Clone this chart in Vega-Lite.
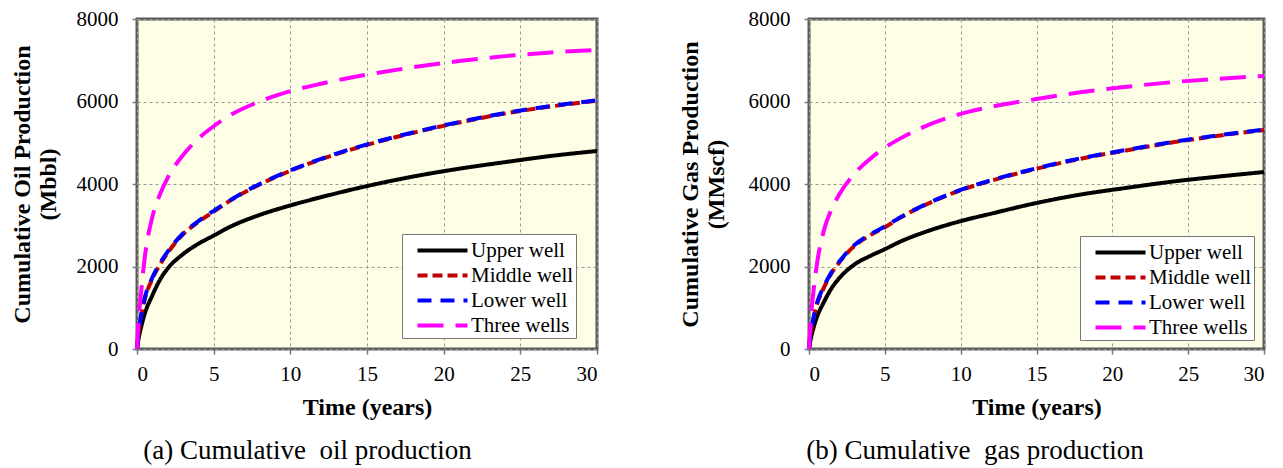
{
  "$schema": "https://vega.github.io/schema/vega-lite/v6.json",
  "background": "white",
  "padding": {"left": 8, "top": 6, "right": 5, "bottom": 5},
  "config": {
    "font": "Liberation Serif",
    "view": {"fill": "#FEFEE6", "stroke": "#5a5a5a", "strokeWidth": 3},
    "axis": {
      "labelFont": "Liberation Serif", "labelFontSize": 21, "labelColor": "#000",
      "titleFont": "Liberation Serif", "titleFontSize": 24, "titleFontWeight": "bold", "titleColor": "#000",
      "domain": false, "grid": true, "gridColor": "#999", "gridDash": [3, 3], "gridWidth": 1,
      "tickColor": "#777", "tickSize": 5, "tickWidth": 1.5
    },
    "axisX": {"labelPadding": 9, "titlePadding": 11},
    "axisY": {"labelPadding": 14},
    "legend": {
      "symbolType": "M-2,0H2", "symbolStrokeWidth": 4, "symbolSize": 625,
      "labelFont": "Liberation Serif", "labelFontSize": 21, "labelColor": "#000",
      "strokeColor": "#777", "fillColor": "white", "padding": 2, "rowPadding": -1, "labelOffset": 14, "symbolOffset": 24
    },
    "title": {"font": "Liberation Serif", "fontSize": 27, "fontWeight": "normal", "color": "#000"},
    "concat": {"spacing": 69}
  },
  "datasets": {
    "oil": [
      {"t": 0, "Upper well": 0, "Middle well": 0, "Lower well": 0, "Three wells": 0},
      {"t": 0.1, "Upper well": 250, "Middle well": 400, "Lower well": 420, "Three wells": 700},
      {"t": 0.25, "Upper well": 500, "Middle well": 750, "Lower well": 780, "Three wells": 1300},
      {"t": 0.5, "Upper well": 850, "Middle well": 1200, "Lower well": 1230, "Three wells": 2200},
      {"t": 1, "Upper well": 1300, "Middle well": 1700, "Lower well": 1730, "Three wells": 3200},
      {"t": 1.5, "Upper well": 1680, "Middle well": 2050, "Lower well": 2080, "Three wells": 3750},
      {"t": 2, "Upper well": 1950, "Middle well": 2330, "Lower well": 2360, "Three wells": 4150},
      {"t": 3, "Upper well": 2300, "Middle well": 2780, "Lower well": 2800, "Three wells": 4700},
      {"t": 4, "Upper well": 2550, "Middle well": 3080, "Lower well": 3100, "Three wells": 5100},
      {"t": 5, "Upper well": 2750, "Middle well": 3330, "Lower well": 3350, "Three wells": 5400},
      {"t": 6, "Upper well": 2950, "Middle well": 3580, "Lower well": 3590, "Three wells": 5650},
      {"t": 8, "Upper well": 3250, "Middle well": 3990, "Lower well": 4000, "Three wells": 6000},
      {"t": 10, "Upper well": 3480, "Middle well": 4320, "Lower well": 4330, "Three wells": 6250},
      {"t": 12, "Upper well": 3680, "Middle well": 4600, "Lower well": 4610, "Three wells": 6430},
      {"t": 15, "Upper well": 3950, "Middle well": 4950, "Lower well": 4960, "Three wells": 6650},
      {"t": 18, "Upper well": 4180, "Middle well": 5240, "Lower well": 5250, "Three wells": 6830},
      {"t": 21, "Upper well": 4370, "Middle well": 5490, "Lower well": 5500, "Three wells": 6980},
      {"t": 24, "Upper well": 4530, "Middle well": 5710, "Lower well": 5720, "Three wells": 7100},
      {"t": 27, "Upper well": 4680, "Middle well": 5880, "Lower well": 5890, "Three wells": 7190},
      {"t": 30, "Upper well": 4800, "Middle well": 6020, "Lower well": 6030, "Three wells": 7250}
    ],
    "gas": [
      {"t": 0, "Upper well": 0, "Middle well": 0, "Lower well": 0, "Three wells": 0},
      {"t": 0.1, "Upper well": 220, "Middle well": 350, "Lower well": 370, "Three wells": 650},
      {"t": 0.25, "Upper well": 450, "Middle well": 650, "Lower well": 680, "Three wells": 1250},
      {"t": 0.5, "Upper well": 750, "Middle well": 1050, "Lower well": 1080, "Three wells": 2000},
      {"t": 1, "Upper well": 1150, "Middle well": 1500, "Lower well": 1530, "Three wells": 2900},
      {"t": 1.5, "Upper well": 1480, "Middle well": 1850, "Lower well": 1870, "Three wells": 3400},
      {"t": 2, "Upper well": 1720, "Middle well": 2100, "Lower well": 2120, "Three wells": 3750},
      {"t": 3, "Upper well": 2050, "Middle well": 2500, "Lower well": 2520, "Three wells": 4250},
      {"t": 4, "Upper well": 2250, "Middle well": 2750, "Lower well": 2770, "Three wells": 4600},
      {"t": 5, "Upper well": 2420, "Middle well": 2950, "Lower well": 2970, "Three wells": 4880},
      {"t": 6, "Upper well": 2600, "Middle well": 3180, "Lower well": 3190, "Three wells": 5100},
      {"t": 8, "Upper well": 2880, "Middle well": 3550, "Lower well": 3560, "Three wells": 5450},
      {"t": 10, "Upper well": 3100, "Middle well": 3850, "Lower well": 3860, "Three wells": 5700},
      {"t": 12, "Upper well": 3280, "Middle well": 4080, "Lower well": 4090, "Three wells": 5870},
      {"t": 15, "Upper well": 3540, "Middle well": 4370, "Lower well": 4380, "Three wells": 6060},
      {"t": 18, "Upper well": 3750, "Middle well": 4620, "Lower well": 4630, "Three wells": 6230},
      {"t": 21, "Upper well": 3910, "Middle well": 4820, "Lower well": 4830, "Three wells": 6360},
      {"t": 24, "Upper well": 4060, "Middle well": 5010, "Lower well": 5020, "Three wells": 6470},
      {"t": 27, "Upper well": 4180, "Middle well": 5170, "Lower well": 5180, "Three wells": 6550},
      {"t": 30, "Upper well": 4290, "Middle well": 5310, "Lower well": 5320, "Three wells": 6620}
    ]
  },
  "resolve": {
    "scale": {"color": "independent", "strokeDash": "independent"},
    "legend": {"color": "independent", "strokeDash": "independent"}
  },
  "hconcat": [
    {
      "width": 460,
      "height": 330,
      "data": {"name": "oil"},
      "transform": [{"fold": ["Upper well", "Middle well", "Lower well", "Three wells"], "as": ["well", "v"]}],
      "title": {"text": "(a) Cumulative\u00a0 oil production", "orient": "bottom", "anchor": "middle", "frame": "bounds", "offset": 19},
      "mark": {"type": "line", "strokeWidth": 4, "interpolate": "monotone"},
      "encoding": {
        "x": {"field": "t", "type": "quantitative", "scale": {"domain": [0, 30], "nice": false},
              "axis": {"values": [0, 5, 10, 15, 20, 25, 30], "title": "Time (years)"}},
        "y": {"field": "v", "type": "quantitative", "scale": {"domain": [0, 8000], "nice": false},
              "axis": {"values": [0, 2000, 4000, 6000, 8000], "format": "d", "title": ["Cumulative Oil Production", "(Mbbl)"], "titlePadding": 16}},
        "color": {"field": "well", "type": "nominal",
                  "scale": {"domain": ["Upper well", "Middle well", "Lower well", "Three wells"], "range": ["#000000", "#C00000", "#0000FF", "#FF00FF"]},
                  "legend": {"title": null, "orient": "none", "legendX": 265, "legendY": 215}},
        "strokeDash": {"field": "well", "type": "nominal",
                  "scale": {"domain": ["Upper well", "Middle well", "Lower well", "Three wells"], "range": [[1, 0], [10, 5], [14, 9], [26, 12]]},
                  "legend": {"title": null, "orient": "none", "legendX": 265, "legendY": 215}}
      }
    },
    {
      "width": 455,
      "height": 330,
      "data": {"name": "gas"},
      "transform": [{"fold": ["Upper well", "Middle well", "Lower well", "Three wells"], "as": ["well", "v"]}],
      "title": {"text": "(b) Cumulative\u00a0 gas production", "orient": "bottom", "anchor": "middle", "frame": "bounds", "offset": 19},
      "mark": {"type": "line", "strokeWidth": 4, "interpolate": "monotone"},
      "encoding": {
        "x": {"field": "t", "type": "quantitative", "scale": {"domain": [0, 30], "nice": false},
              "axis": {"values": [0, 5, 10, 15, 20, 25, 30], "title": "Time (years)"}},
        "y": {"field": "v", "type": "quantitative", "scale": {"domain": [0, 8000], "nice": false},
              "axis": {"values": [0, 2000, 4000, 6000, 8000], "format": "d", "title": ["Cumulative Gas Production", "(MMscf)"], "titlePadding": 20}},
        "color": {"field": "well", "type": "nominal",
                  "scale": {"domain": ["Upper well", "Middle well", "Lower well", "Three wells"], "range": ["#000000", "#C00000", "#0000FF", "#FF00FF"]},
                  "legend": {"title": null, "orient": "none", "legendX": 271, "legendY": 217}},
        "strokeDash": {"field": "well", "type": "nominal",
                  "scale": {"domain": ["Upper well", "Middle well", "Lower well", "Three wells"], "range": [[1, 0], [10, 5], [14, 9], [26, 12]]},
                  "legend": {"title": null, "orient": "none", "legendX": 271, "legendY": 217}}
      }
    }
  ]
}
